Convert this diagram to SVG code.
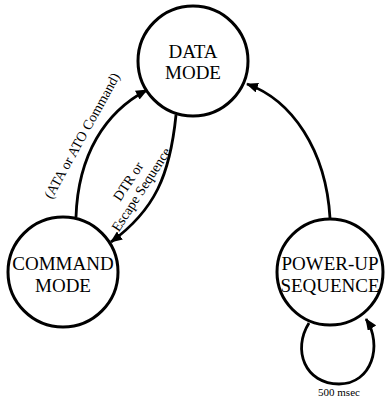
<svg xmlns="http://www.w3.org/2000/svg" width="390" height="400" viewBox="0 0 390 400">
<style>
.node{fill:#fff;stroke:#000;stroke-width:3}
.lbl{font-family:"Liberation Serif","Times New Roman",serif;font-size:19px;fill:#000;text-anchor:middle}
.edge{fill:none;stroke:#000;stroke-width:2.8}
.el{font-family:"Liberation Serif","Times New Roman",serif;font-size:14px;fill:#000;text-anchor:middle}
</style>
<defs>
<marker id="arr" viewBox="0 0 12 10" refX="11" refY="5" markerWidth="12" markerHeight="10" markerUnits="userSpaceOnUse" orient="auto">
<path d="M0,0 L12,5 L0,10 Z" fill="#000"/>
</marker>
</defs>
<g id="connectors">
<path class="edge" d="M76,217 C78,155 105,112 147,90" marker-end="url(#arr)"/>
<path class="edge" d="M176,115 C170,175 155,210 111,242" marker-end="url(#arr)"/>
<path class="edge" d="M330,218 C326,150 292,100 247,84" marker-end="url(#arr)"/>
<path class="edge" d="M309,323 C292,350 305,384 339,384 C372,384 383,345 366,319" marker-end="url(#arr)"/>
<text class="el" transform="translate(86,138) rotate(-61)">(ATA or ATO Command)</text>
<text class="el" transform="translate(132,184) rotate(-57)">DTR or</text>
<text class="el" transform="translate(145,192) rotate(-57)">Escape Sequence</text>
<text class="el" x="339" y="396" style="font-size:11px">500 msec</text>
</g>
<g id="data-mode">
<circle class="node" cx="193" cy="61" r="55"/>
<text class="lbl" x="193" y="58">DATA</text>
<text class="lbl" x="193" y="79">MODE</text>
</g>
<g id="command-mode">
<circle class="node" cx="63" cy="272" r="55"/>
<text class="lbl" x="63" y="270">COMMAND</text>
<text class="lbl" x="63" y="292">MODE</text>
</g>
<g id="power-up">
<circle class="node" cx="330" cy="272" r="53"/>
<text class="lbl" x="330" y="270">POWER-UP</text>
<text class="lbl" x="330" y="292">SEQUENCE</text>
</g>
</svg>
